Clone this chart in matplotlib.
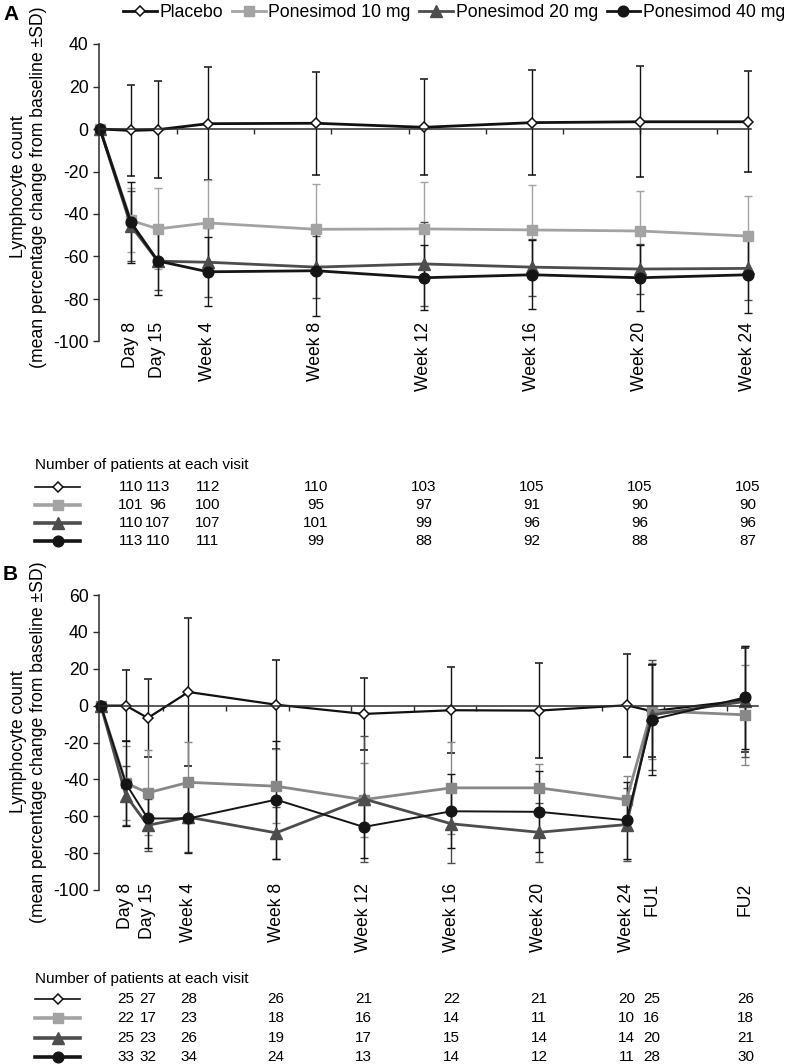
import matplotlib
matplotlib.use("Agg")
import matplotlib.pyplot as plt
from matplotlib.lines import Line2D
import matplotlib.transforms as mtransforms

plt.rcParams['font.family'] = ['Liberation Sans', 'DejaVu Sans']

# ---------------- data ----------------
series_names = ["Placebo", "Ponesimod 10 mg", "Ponesimod 20 mg", "Ponesimod 40 mg"]

# Panel A
days_A = [0, 8, 15, 28, 56, 84, 112, 140, 168]
labels_A = ["Day 8", "Day 15", "Week 4", "Week 8", "Week 12", "Week 16", "Week 20", "Week 24"]
placebo_A = [0, -0.7, -0.3, 2.5, 2.7, 0.8, 3.0, 3.4, 3.4]
placebo_A_sd = [0, 21.5, 22.8, 26.5, 24.3, 22.6, 24.7, 26.2, 23.7]
p10_A = [0, -43.0, -47.0, -44.2, -47.2, -47.0, -47.5, -48.0, -50.4]
p10_A_sd = [0, 15, 19, 20, 21.5, 22, 21, 19, 19]
p20_A = [0, -45.5, -62.2, -62.7, -65.0, -63.5, -65.0, -65.9, -65.6]
p20_A_sd = [0, 16.5, 13.5, 16.2, 14.5, 19.8, 13.4, 11.7, 15.0]
p40_A = [0, -43.9, -62.1, -67.2, -66.7, -70.0, -68.6, -70.0, -68.6]
p40_A_sd = [0, 19, 15.8, 16.2, 21.3, 15.2, 16.3, 15.6, 18.0]
n_placebo_A = [110, 113, 112, 110, 103, 105, 105, 105]
n_p10_A = [101, 96, 100, 95, 97, 91, 90, 90]
n_p20_A = [110, 107, 107, 101, 99, 96, 96, 96]
n_p40_A = [113, 110, 111, 99, 88, 92, 88, 87]

# Panel B
days_B = [0, 8, 15, 28, 56, 84, 112, 140, 168, 176, 206]
labels_B = ["Day 8", "Day 15", "Week 4", "Week 8", "Week 12", "Week 16", "Week 20",
            "Week 24", "FU1", "FU2"]
placebo_B = [0, 0.0, -6.7, 7.4, 0.5, -4.5, -2.5, -2.7, 0.2, -3.0, 3.0]
placebo_B_sd = [0, 19.3, 21.3, 40, 24, 19.7, 23.3, 25.8, 28, 25, 28]
p10_B = [0, -42.0, -47.3, -41.6, -43.7, -51.0, -44.6, -44.6, -51.0, -2.8, -5.0]
p10_B_sd = [0, 20, 23, 22, 20, 20, 25, 13, 13, 26, 27]
p20_B = [0, -48.8, -64.9, -60.5, -69.0, -50.6, -64.1, -68.7, -64.5, -5.0, 2.3]
p20_B_sd = [0, 16, 14, 19, 14, 34, 21, 16, 20, 30, 30]
p40_B = [0, -42.3, -61.2, -61.2, -51.0, -65.8, -57.3, -57.6, -62.2, -7.6, 4.5]
p40_B_sd = [0, 23, 16, 19, 32, 17, 20, 22, 21, 30, 28]
n_placebo_B = [25, 27, 28, 26, 21, 22, 21, 20, 25, 26]
n_p10_B = [22, 17, 23, 18, 16, 14, 11, 10, 16, 18]
n_p20_B = [25, 23, 26, 19, 17, 15, 14, 14, 20, 21]
n_p40_B = [33, 32, 34, 24, 13, 14, 12, 11, 28, 30]

# ---------------- styles ----------------
W, H = 786, 1064
FS = 12.7
AX_COL = '#2b2b2b'
styles = [
    dict(color='#111111', marker='D', mfc='white', mec='#111111', ms=5.6, mew=1.1),
    dict(color='#a3a3a3', marker='s', mfc='#a3a3a3', mec='#a3a3a3', ms=7.3, mew=1),
    dict(color='#4d4d4d', marker='^', mfc='#4d4d4d', mec='#4d4d4d', ms=8.5, mew=1),
    dict(color='#151515', marker='o', mfc='#151515', mec='#151515', ms=7.7, mew=1),
]
colB10 = '#888888'

fig = plt.figure(figsize=(W / 100, H / 100), dpi=100)


def fy(py):
    return 1 - py / H


def setup_axes(ax, ylim, yticks, xmax_tick):
    ax.set_ylim(*ylim)
    ax.set_yticks(yticks)
    ax.set_yticklabels([str(t) for t in yticks], fontsize=FS)
    for s in ['top', 'right']:
        ax.spines[s].set_visible(False)
    ax.spines['bottom'].set_position(('data', 0))
    ax.spines['left'].set_color(AX_COL)
    ax.spines['bottom'].set_color(AX_COL)
    ax.spines['left'].set_linewidth(1.1)
    ax.spines['bottom'].set_linewidth(1.1)
    ax.set_xticks(list(range(0, xmax_tick + 1, 20)))
    ax.set_xticklabels([])
    ax.tick_params(axis='x', direction='out', length=3.5, width=1, color=AX_COL)
    ax.tick_params(axis='y', direction='out', length=4.5, width=1, color=AX_COL, pad=3)
    ax.set_facecolor('none')


def draw_series(ax, days, means, sds, st, lw, color=None):
    c = color or st['color']
    mfc = st['mfc'] if st['mfc'] == 'white' or color is None else color
    mec = st['mec'] if color is None else color
    ax.errorbar(days, means, yerr=sds, color=c, lw=lw, marker=st['marker'],
                mfc=mfc, mec=mec, ms=st['ms'], mew=st['mew'],
                ecolor=c, elinewidth=1.0, capsize=3.2, capthick=1.0, clip_on=False)


# ---------------- Panel A ----------------
axA = fig.add_axes([99 / W, fy(341.5), (751 - 99) / W, (341.5 - 44) / H])
axA.set_xlim(-0.26, 168.8)
setup_axes(axA, (-100, 40), list(range(-100, 41, 20)), 160)
for st, m, s in zip(styles, [placebo_A, p10_A, p20_A, p40_A],
                    [placebo_A_sd, p10_A_sd, p20_A_sd, p40_A_sd]):
    draw_series(axA, days_A, m, s, st, lw=2.0)
for d, lab in zip(days_A[1:], labels_A):
    axA.text(d, -90.7, lab, rotation=90, ha='center', va='top', fontsize=FS)

# ---------------- Panel B ----------------
axB = fig.add_axes([99 / W, fy(890), (758 - 99) / W, (890 - 595) / H])
axB.set_xlim(-0.6, 210)
setup_axes(axB, (-100, 60), list(range(-100, 61, 20)), 200)
lwsB = [1.6, 2.0, 2.0, 1.4]
colsB = [None, colB10, None, None]
for st, m, s, lw, c in zip(styles, [placebo_B, p10_B, p20_B, p40_B],
                           [placebo_B_sd, p10_B_sd, p20_B_sd, p40_B_sd], lwsB, colsB):
    draw_series(axB, days_B, m, s, st, lw=lw, color=c)
for d, lab in zip(days_B[1:], labels_B):
    axB.text(d, -96.2, lab, rotation=90, ha='center', va='top', fontsize=FS)

# ---------------- y labels & panel letters ----------------
ylab1 = "Lymphocyte count"
ylab2 = "(mean percentage change from baseline \u00b1SD)"
for cy in (187, 742):
    fig.text(19 / W, fy(cy), ylab1, rotation=90, ha='center', va='center', fontsize=FS)
    fig.text(39 / W, fy(cy), ylab2, rotation=90, ha='center', va='center', fontsize=FS)
fig.text(3 / W, fy(15), "A", fontsize=15, fontweight='bold', ha='left', va='center')
fig.text(3 / W, fy(574), "B", fontsize=15, fontweight='bold', ha='left', va='center')

# ---------------- legend ----------------
handles = [Line2D([], [], color=st['color'], lw=2.0, marker=st['marker'], mfc=st['mfc'],
                  mec=st['mec'], ms=st['ms'], mew=st['mew']) for st in styles]
fig.legend(handles, series_names, loc='upper right', bbox_to_anchor=(785 / W, fy(4)),
           ncol=4, frameon=False, fontsize=FS, handlelength=1.9, handletextpad=0.15,
           columnspacing=0.5, borderpad=0, borderaxespad=0)


# ---------------- patient tables ----------------
def draw_table(ax, days, counts, title_y, row_ys):
    fig.text(35 / W, fy(title_y), "Number of patients at each visit", fontsize=11,
             ha='left', va='center')
    tr = mtransforms.blended_transform_factory(ax.transData, fig.transFigure)
    for st, row, ry in zip(styles, counts, row_ys):
        fig.add_artist(Line2D([35 / W, 57.5 / W, 80 / W], [fy(ry)] * 3,
                              transform=fig.transFigure, color=st['color'],
                              lw=1.2 if st['marker'] == 'D' else 2.6,
                              marker=st['marker'], markevery=[1], mfc=st['mfc'],
                              mec=st['mec'], ms=st['ms'], mew=st['mew']))
        for d, n in zip(days[1:], row):
            fig.text(d, fy(ry), str(n), transform=tr, fontsize=11,
                     ha='center', va='center')


draw_table(axA, days_A, [n_placebo_A, n_p10_A, n_p20_A, n_p40_A], 465, [487, 505, 523, 541])
draw_table(axB, days_B, [n_placebo_B, n_p10_B, n_p20_B, n_p40_B], 979, [999, 1018, 1038, 1057])

fig.savefig("out.png", dpi=100)
